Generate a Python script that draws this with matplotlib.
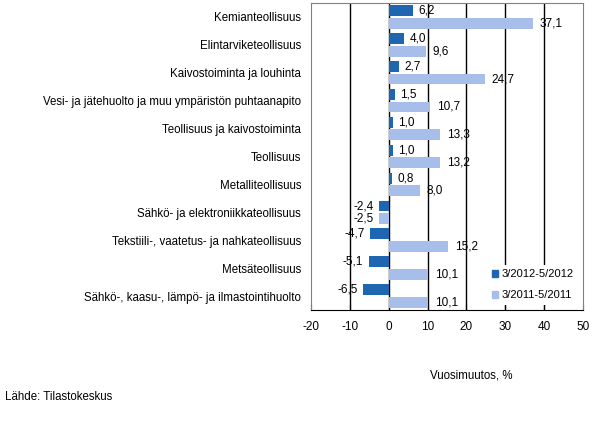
import matplotlib.pyplot as plt
import numpy as np
from matplotlib.patches import Patch

plt.rcParams['font.family'] = ['Liberation Sans', 'DejaVu Sans']

categories = [
    'Kemianteollisuus',
    'Elintarviketeollisuus',
    'Kaivostoiminta ja louhinta',
    'Vesi- ja jätehuolto ja muu ympäristön puhtaanapito',
    'Teollisuus ja kaivostoiminta',
    'Teollisuus',
    'Metalliteollisuus',
    'Sähkö- ja elektroniikkateollisuus',
    'Tekstiili-, vaatetus- ja nahkateollisuus',
    'Metsäteollisuus',
    'Sähkö-, kaasu-, lämpö- ja ilmastointihuolto',
]
vals_2012 = [6.2, 4.0, 2.7, 1.5, 1.0, 1.0, 0.8, -2.4, -4.7, -5.1, -6.5]
vals_2011 = [37.1, 9.6, 24.7, 10.7, 13.3, 13.2, 8.0, -2.5, 15.2, 10.1, 10.1]
series_names = ['3/2012-5/2012', '3/2011-5/2011']
xticks = [-20, -10, 0, 10, 20, 30, 40, 50]

dark = '#1F66B0'
light = '#A7BDEA'

fig = plt.figure(figsize=(5.98, 4.21), dpi=100)
ax = fig.add_axes([0.520, 0.2637, 0.455, 0.7292])

y = np.arange(len(categories))
h = 0.39
off = 0.225

# vertical grid lines (black, as in the original)
for gx in [-10, 0, 10, 20, 30, 40]:
    ax.axvline(gx, color='black', lw=1, zorder=1)

ax.barh(y - off, vals_2012, height=h, color=dark, zorder=2)
ax.barh(y + off, vals_2011, height=h, color=light, zorder=2)


def fmt(v):
    return ('%.1f' % v).replace('.', ',')


for yy, v in zip(y - off, vals_2012):
    ax.annotate(fmt(v), (v, yy), xytext=(4 if v >= 0 else -4, 0),
                textcoords='offset points', va='center',
                ha='left' if v >= 0 else 'right', fontsize=8.5, zorder=3)
for yy, v in zip(y + off, vals_2011):
    ax.annotate(fmt(v), (v, yy), xytext=(5 if v >= 0 else -4, 0),
                textcoords='offset points', va='center',
                ha='left' if v >= 0 else 'right', fontsize=8.5, zorder=3)

ax.set_xlim(-20, 50)
ax.set_ylim(len(categories) - 0.5, -0.5)
ax.set_xticks(xticks)
ax.set_xticklabels([str(t) for t in xticks], fontsize=8.5)
ax.set_yticks(y)
ax.set_yticklabels(categories, fontsize=8.3)
ax.tick_params(axis='y', length=0, pad=7)
ax.tick_params(axis='x', direction='in', length=4, pad=8, color='black')

for s in ['top', 'right', 'left']:
    ax.spines[s].set_color('#808080')
ax.spines['bottom'].set_color('black')

handles = [Patch(color=dark), Patch(color=light)]
leg = ax.legend(handles, series_names, loc='lower right', bbox_to_anchor=(0.99, 0.01),
                frameon=True, fontsize=8, handlelength=0.6, handleheight=0.6,
                handletextpad=0.3, labelspacing=1.0, borderaxespad=0.2)
leg.get_frame().set_edgecolor('none')
leg.get_frame().set_facecolor('white')
leg.get_frame().set_alpha(1)
leg.set_zorder(5)

fig.text(471 / 598, 1 - 375 / 421, 'Vuosimuutos, %', ha='center', va='center', fontsize=8.3)
fig.text(5 / 598, 1 - 397 / 421, 'Lähde: Tilastokeskus', ha='left', va='center', fontsize=8.3)

fig.savefig('out.png', dpi=100)
